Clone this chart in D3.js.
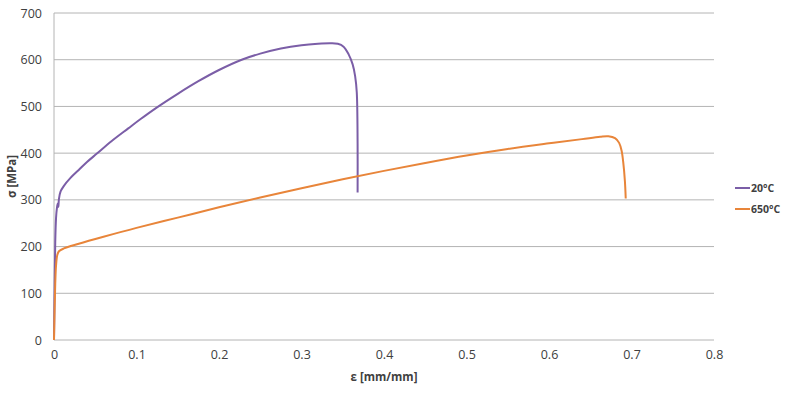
<!DOCTYPE html>
<html>
<head>
<meta charset="utf-8">
<script src="https://cdn.jsdelivr.net/npm/d3@7"></script>
<style>
  body { margin: 0; background: #fff; }
  text { font-family: "Open Sans", "Noto Sans", sans-serif; }
</style>
</head>
<body>
<div id="chart"></div>
<script>
// 20°C curve
const strain20 = [0, 0.0008, 0.0015, 0.0025, 0.0035, 0.0045, 0.0052, 0.006, 0.008, 0.012, 0.02, 0.03, 0.04, 0.052, 0.07, 0.09, 0.105, 0.124, 0.15, 0.175, 0.2, 0.2275, 0.25, 0.275, 0.3, 0.32, 0.335, 0.344, 0.351, 0.357, 0.362, 0.365, 0.367, 0.368, 0.368];
const stress20 = [0, 120, 210, 262, 282, 292, 285, 302, 318, 330, 347, 364, 381, 399, 426, 453, 473, 497, 527, 554, 578, 600, 613, 624, 631, 634, 635, 634, 628, 612, 590, 565, 530, 420, 316];

// 650°C curve
const strain650 = [0, 0.0008, 0.0015, 0.0025, 0.004, 0.006, 0.012, 0.03, 0.06, 0.1, 0.15, 0.2, 0.25, 0.3, 0.35, 0.4, 0.45, 0.5, 0.55, 0.6, 0.64, 0.662, 0.672, 0.68, 0.685, 0.688, 0.69, 0.692, 0.693];
const stress650 = [0, 70, 120, 160, 182, 190, 196, 206, 221, 240, 262, 284, 305, 325, 344, 362, 379, 395, 409, 421, 430, 435, 436, 432, 422, 405, 380, 340, 303];

const xTicks = [0, 0.1, 0.2, 0.3, 0.4, 0.5, 0.6, 0.7, 0.8];
const yTicks = [0, 100, 200, 300, 400, 500, 600, 700];
const seriesNames = ["20°C", "650°C"];
const seriesColors = ["#7b5ea7", "#e8853a"];

const width = 785;
const height = 393;
const margin = { top: 13, right: 71, bottom: 53, left: 54 };

const svg = d3.select("#chart")
  .append("svg")
    .attr("width", width)
    .attr("height", height);

const xScale = d3.scaleLinear()
  .domain([0, 0.8])
  .range([margin.left, width - margin.right]);
const yScale = d3.scaleLinear()
  .domain([0, 700])
  .range([height - margin.bottom, margin.top]);

// Gridlines
svg.append("g")
  .selectAll("line")
  .data(yTicks)
  .join("line")
    .attr("x1", xScale(0))
    .attr("x2", xScale(0.8))
    .attr("y1", d => yScale(d))
    .attr("y2", d => yScale(d))
    .attr("stroke", "#b4b4b4")
    .attr("stroke-width", 1);

// left axis line
svg.append("line")
  .attr("x1", xScale(0))
  .attr("x2", xScale(0))
  .attr("y1", yScale(0))
  .attr("y2", yScale(700))
  .attr("stroke", "#b4b4b4");

// Axes (labels only)
const leftAxis = d3.axisLeft(yScale)
  .tickValues(yTicks)
  .tickSize(0)
  .tickPadding(12);
svg.append("g")
    .attr("transform", `translate(${margin.left}, 0)`)
    .call(leftAxis)
    .call(g => g.select(".domain").remove())
    .call(g => g.selectAll("text")
      .attr("font-size", 12.5)
      .attr("fill", "#404040")
      .style("font-family", "\"Open Sans\", sans-serif"));

const bottomAxis = d3.axisBottom(xScale)
  .tickValues(xTicks)
  .tickFormat(d => d === 0 ? "0" : d3.format(".1f")(d))
  .tickSize(0)
  .tickPadding(10);
svg.append("g")
    .attr("transform", `translate(0, ${yScale(0)})`)
    .call(bottomAxis)
    .call(g => g.select(".domain").remove())
    .call(g => g.selectAll("text")
      .attr("font-size", 12.5)
      .attr("fill", "#404040")
      .style("font-family", "\"Open Sans\", sans-serif"));

// Axis titles
svg.append("text")
  .attr("transform", `translate(16, ${yScale(350)}) rotate(-90)`)
  .attr("text-anchor", "middle")
  .attr("font-size", 11.5)
  .attr("font-weight", "bold")
  .attr("fill", "#404040")
  .text("σ [MPa]");

svg.append("text")
  .attr("x", xScale(0.4))
  .attr("y", 381)
  .attr("text-anchor", "middle")
  .attr("font-size", 11.5)
  .attr("font-weight", "bold")
  .attr("fill", "#404040")
  .text("ε [mm/mm]");

// Curves
const series = [
  { name: seriesNames[0], color: seriesColors[0], pts: strain20.map((e, i) => [e, stress20[i]]) },
  { name: seriesNames[1], color: seriesColors[1], pts: strain650.map((e, i) => [e, stress650[i]]) }
];

const line = d3.line()
  .x(d => xScale(d[0]))
  .y(d => yScale(d[1]))
  .curve(d3.curveCatmullRom.alpha(0.5));

svg.append("g")
  .selectAll("path")
  .data(series)
  .join("path")
    .attr("d", d => line(d.pts))
    .attr("fill", "none")
    .attr("stroke", d => d.color)
    .attr("stroke-width", 2);

// Legend
const legend = svg.append("g")
  .selectAll("g")
  .data(series)
  .join("g")
    .attr("transform", (d, i) => `translate(735, ${188 + i * 21})`);
legend.append("line")
  .attr("x1", 0)
  .attr("x2", 15)
  .attr("stroke", d => d.color)
  .attr("stroke-width", 2);
legend.append("text")
  .attr("x", 16)
  .attr("dy", "0.35em")
  .attr("font-size", 10.5)
  .attr("font-weight", "bold")
  .attr("fill", "#404040")
  .text(d => d.name);
</script>
</body>
</html>
